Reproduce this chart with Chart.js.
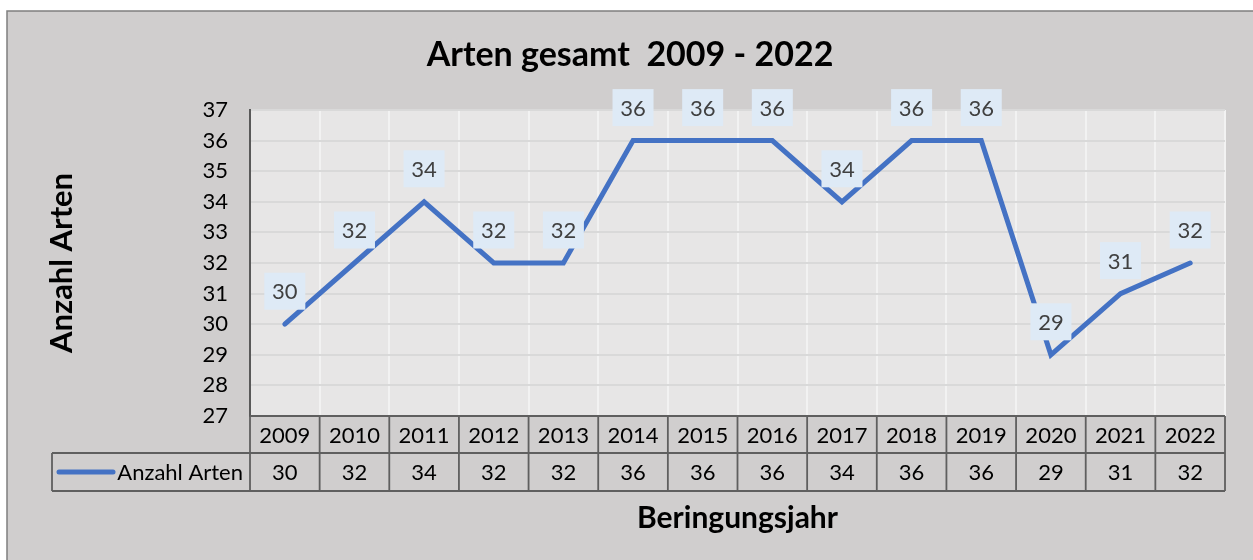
<!DOCTYPE html>
<html>
<head>
<meta charset="utf-8">
<script src="https://cdn.jsdelivr.net/npm/chart.js@4.4.1/dist/chart.umd.min.js"></script>
<style>
  html, body { margin: 0; padding: 0; background: #ffffff; }
  canvas { display: block; }
</style>
</head>
<body>
<canvas id="c" width="1253" height="560"></canvas>
<script>
const years = ['2009','2010','2011','2012','2013','2014','2015','2016','2017','2018','2019','2020','2021','2022'];
const anzahlArten = [30, 32, 34, 32, 32, 36, 36, 36, 34, 36, 36, 29, 31, 32];
const yMin = 27;
const yMax = 37;
const seriesName = 'Anzahl Arten';
const chartTitle = 'Arten gesamt  2009 - 2022';
const yTitle = 'Anzahl Arten';
const xTitle = 'Beringungsjahr';

const FONT = 'Lato, Carlito, Calibri, "Noto Sans", sans-serif';
const LINE_COLOR = '#4472c4';
const BODY_SIZE = 22;

const backgroundPlugin = {
  id: 'bg',
  beforeDraw(chart) {
    const ctx = chart.ctx;
    const a = chart.chartArea;
    ctx.save();
    ctx.fillStyle = '#ffffff';
    ctx.fillRect(0, 0, chart.width, chart.height);
    ctx.fillStyle = '#d0cece';
    ctx.fillRect(7, 11, chart.width + 10, chart.height + 10);
    ctx.strokeStyle = '#7f7f7f';
    ctx.lineWidth = 1.5;
    ctx.strokeRect(7, 11, chart.width + 10, chart.height + 10);
    ctx.fillStyle = '#e7e6e6';
    ctx.fillRect(a.left, a.top, a.right - a.left, a.bottom - a.top);
    ctx.restore();
  }
};

const labelPlugin = {
  id: 'dataLabels',
  afterDatasetsDraw(chart) {
    const ctx = chart.ctx;
    const meta = chart.getDatasetMeta(0);
    const data = chart.data.datasets[0].data;
    ctx.save();
    ctx.font = BODY_SIZE + 'px ' + FONT;
    ctx.textAlign = 'center';
    ctx.textBaseline = 'middle';
    meta.data.forEach((pt, i) => {
      const cx = pt.x;
      const cy = pt.y - 33;
      const w = 41, h = 37;
      ctx.fillStyle = '#deeaf6';
      ctx.fillRect(cx - w / 2, cy - h / 2, w, h);
      ctx.fillStyle = '#404040';
      ctx.fillText(String(data[i]), cx, cy + 1);
    });
    ctx.restore();
  }
};

const tablePlugin = {
  id: 'dataTable',
  afterDraw(chart) {
    const ctx = chart.ctx;
    const x = chart.scales.x;
    const a = chart.chartArea;
    const n = years.length;
    const cw = (a.right - a.left) / n;
    const row1Top = a.bottom;
    const row2Top = a.bottom + 37;
    const row2Bottom = a.bottom + 75;
    const legendLeft = 52;
    ctx.save();
    ctx.fillStyle = '#000000';
    ctx.font = BODY_SIZE + 'px ' + FONT;
    ctx.textAlign = 'center';
    ctx.textBaseline = 'middle';
    years.forEach((y, i) => {
      const px = x.getPixelForValue(i);
      ctx.fillText(y, px, (row1Top + row2Top) / 2 + 1);
      ctx.fillText(String(anzahlArten[i]), px, (row2Top + row2Bottom) / 2 + 1);
    });
    ctx.textAlign = 'right';
    ctx.fillText(seriesName, a.left - 7, (row2Top + row2Bottom) / 2 + 1);
    ctx.strokeStyle = LINE_COLOR;
    ctx.lineWidth = 5;
    ctx.lineCap = 'round';
    ctx.beginPath();
    ctx.moveTo(59, (row2Top + row2Bottom) / 2);
    ctx.lineTo(113, (row2Top + row2Bottom) / 2);
    ctx.stroke();
    ctx.strokeStyle = '#5f5f5f';
    ctx.lineWidth = 1.8;
    ctx.lineCap = 'butt';
    ctx.beginPath();
    ctx.moveTo(a.left, row1Top); ctx.lineTo(a.right, row1Top);
    ctx.moveTo(legendLeft, row2Top); ctx.lineTo(a.right, row2Top);
    ctx.moveTo(legendLeft, row2Bottom); ctx.lineTo(a.right, row2Bottom);
    ctx.moveTo(legendLeft, row2Top); ctx.lineTo(legendLeft, row2Bottom);
    for (let i = 0; i <= n; i++) {
      const px = a.left + i * cw;
      ctx.moveTo(px, row1Top); ctx.lineTo(px, row2Bottom);
    }
    ctx.stroke();
    ctx.restore();
  }
};

function build() {
  new Chart(document.getElementById('c'), {
    type: 'line',
    data: {
      labels: years,
      datasets: [{
        label: seriesName,
        data: anzahlArten,
        yAxisID: 'y',
        borderColor: LINE_COLOR,
        backgroundColor: LINE_COLOR,
        borderWidth: 5,
        borderJoinStyle: 'miter',
        borderCapStyle: 'round',
        pointRadius: 0,
        pointHoverRadius: 0,
        tension: 0,
        fill: false
      }]
    },
    options: {
      responsive: false,
      animation: false,
      devicePixelRatio: 1,
      layout: { padding: { left: 7, right: 0, top: 0, bottom: 0 } },
      plugins: {
        legend: { display: false },
        tooltip: { enabled: false },
        title: {
          display: true,
          text: chartTitle,
          color: '#000000',
          font: { family: FONT, size: 34, weight: 'bold', lineHeight: 1.2 },
          padding: { top: 35, bottom: 34.2 }
        }
      },
      scales: {
        x: {
          type: 'category',
          offset: true,
          grid: { offset: true, color: '#f2f2f2', lineWidth: 2, drawTicks: false },
          border: { display: false },
          ticks: { display: false },
          title: {
            display: true,
            text: xTitle,
            color: '#000000',
            font: { family: FONT, size: 30, weight: 'bold', lineHeight: 1.2 },
            padding: { top: 0, bottom: 24 }
          },
          afterFit(scale) { scale.height = 144; }
        },
        y: {
          position: 'left',
          min: yMin,
          max: yMax,
          ticks: {
            stepSize: 1,
            padding: 22,
            color: '#000000',
            font: { family: FONT, size: BODY_SIZE }
          },
          grid: { color: '#d9d9d9', lineWidth: 2, drawTicks: false },
          border: { display: true, color: '#595959', width: 2 },
          title: {
            display: true,
            text: yTitle,
            color: '#000000',
            font: { family: FONT, size: 31, weight: 'bold', lineHeight: 1.2 },
            padding: { top: 36, bottom: 0 }
          },
          afterFit(scale) { scale.width = 243; }
        },
        yRight: {
          type: 'linear',
          position: 'right',
          min: yMin,
          max: yMax,
          ticks: { display: false },
          grid: { display: false, drawTicks: false },
          border: { display: false },
          afterFit(scale) { scale.width = 28; }
        }
      }
    },
    plugins: [backgroundPlugin, labelPlugin, tablePlugin]
  });
}

if (document.fonts && document.fonts.load) {
  Promise.all([
    document.fonts.load('bold 34px Lato'),
    document.fonts.load('22px Lato')
  ]).then(build, build);
} else {
  build();
}
</script>
</body>
</html>
